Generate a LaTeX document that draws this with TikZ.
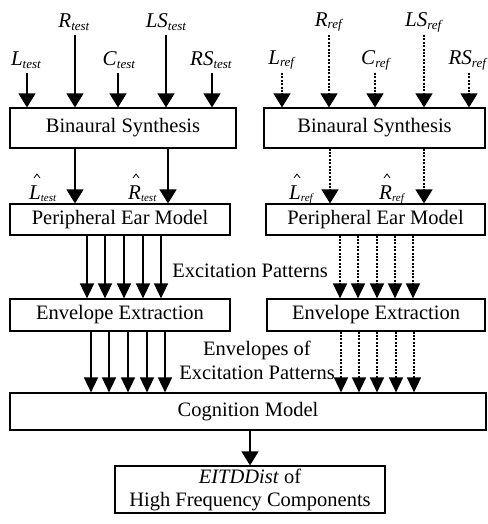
\documentclass[tikz,border=0pt]{standalone}
\usepackage{fontspec}
\setmainfont{Liberation Serif}
\usetikzlibrary{arrows.meta}
\newcommand\sublbl[2]{\textit{#1}\raisebox{-0.3ex}{\fontsize{13}{13}\selectfont\textit{#2}}}
\newcommand\hatlbl[2]{\textit{#1}\raisebox{-0.3ex}{\fontsize{11}{11}\selectfont\textit{#2}}}
\begin{document}
\begin{tikzpicture}[x=1pt,y=-1pt,
  box/.style={draw,line width=1.2pt,inner sep=0pt,font=\fontsize{20.5}{24}\selectfont},
  lbl/.style={inner sep=0pt,font=\fontsize{21}{24}\selectfont},
  hlbl/.style={inner sep=0pt,anchor=base west,font=\fontsize{21}{24}\selectfont},
  txt/.style={inner sep=0pt,font=\fontsize{20.5}{24}\selectfont},
  hatmark/.style={line width=0.8pt,line join=miter},
  bigar/.style={line width=1.6pt,-{Triangle[width=17pt,length=14pt]}},
  smar/.style={line width=1.6pt,-{Triangle[width=14pt,length=15pt]}},
  dots/.style={dash pattern=on 2pt off 1.4pt}]
\useasboundingbox (0,0) rectangle (487,524);
% boxes
\node[box,minimum width=226pt,minimum height=40pt] (bsL) at (123,128) {Binaural Synthesis};
\node[box,minimum width=221pt,minimum height=40pt] (bsR) at (374.5,128) {Binaural Synthesis};
\node[box,minimum width=220pt,minimum height=31pt] (pemL) at (120,219.5) {Peripheral Ear Model};
\node[box,minimum width=219pt,minimum height=31pt] (pemR) at (375.5,219.5) {Peripheral Ear Model};
\node[box,minimum width=220pt,minimum height=32pt] (eeL) at (120,315) {Envelope Extraction};
\node[box,minimum width=218pt,minimum height=32pt] (eeR) at (376,315) {Envelope Extraction};
\node[box,minimum width=476pt,minimum height=37pt] (cm) at (248,411.5) {Cognition Model};
\node[box,minimum width=270pt,minimum height=47pt,align=center] (out) at (250,489.5) {\textit{EITDDist} of\\[-1pt]High Frequency Components};
% top labels
\node[lbl] (Lt) at (26,60) {\sublbl{L}{test}};
\node[lbl] (Rt) at (74,22) {\sublbl{R}{test}};
\node[lbl] (Ct) at (119,60) {\sublbl{C}{test}};
\node[lbl] (LSt) at (166,22) {\sublbl{LS}{test}};
\node[lbl] (RSt) at (211,60) {\sublbl{RS}{test}};
\node[lbl] (Lr) at (282,60) {\sublbl{L}{ref}};
\node[lbl] (Rr) at (329,22) {\sublbl{R}{ref}};
\node[lbl] (Cr) at (376,60) {\sublbl{C}{ref}};
\node[lbl] (LSr) at (424,22) {\sublbl{LS}{ref}};
\node[lbl] (RSr) at (468,60) {\sublbl{RS}{ref}};
\foreach \x/\y in {27/73,75/35,118/73,166/35,212/73}
  \draw[bigar] (\x,\y) -- (\x,\y |- bsL.north);
\foreach \x/\y in {282/73,329/35,375/73,424/35,469/73}
  \draw[bigar,dots] (\x,\y) -- (\x,\y |- bsR.north);
% hat labels
\node[hlbl] (Lh) at (29,199) {\hatlbl{L}{test}};
\node[hlbl] (Rh) at (128,199) {\hatlbl{R}{test}};
\node[hlbl] (Lhr) at (289,199) {\hatlbl{L}{ref}};
\node[hlbl] (Rhr) at (379,199) {\hatlbl{R}{ref}};
\foreach \n in {Lh,Rh,Lhr,Rhr}
  \draw[hatmark] ([shift={(5,-21)}]\n.base west) -- ++(3,-4) -- ++(3,4);
\foreach \x in {75,168}
  \draw[bigar] (\x,0 |- bsL.south) -- (\x,0 |- pemL.north);
\foreach \x in {330,424}
  \draw[bigar,dots] (\x,0 |- bsR.south) -- (\x,0 |- pemR.north);
% excitation patterns
\foreach \x in {87,105,124,143,161}
  \draw[smar] (\x,0 |- pemL.south) -- (\x,0 |- eeL.north);
\foreach \x in {340,358,377,395,413}
  \draw[smar,dots] (\x,0 |- pemR.south) -- (\x,0 |- eeR.north);
\node[txt] (exc) at (250,271) {Excitation Patterns};
% envelopes
\foreach \x in {91,109,128,147,165}
  \draw[smar] (\x,0 |- eeL.south) -- (\x,0 |- cm.north);
\foreach \x in {341,359,377,396,414}
  \draw[smar,dots] (\x,0 |- eeR.south) -- (\x,0 |- cm.north);
\node[txt] (env1) at (257,350) {Envelopes of};
\node[txt] (env2) at (257,373) {Excitation Patterns};
\draw[bigar,line width=1.2pt] (cm.south -| out.north) -- (out.north);
\end{tikzpicture}
\end{document}
